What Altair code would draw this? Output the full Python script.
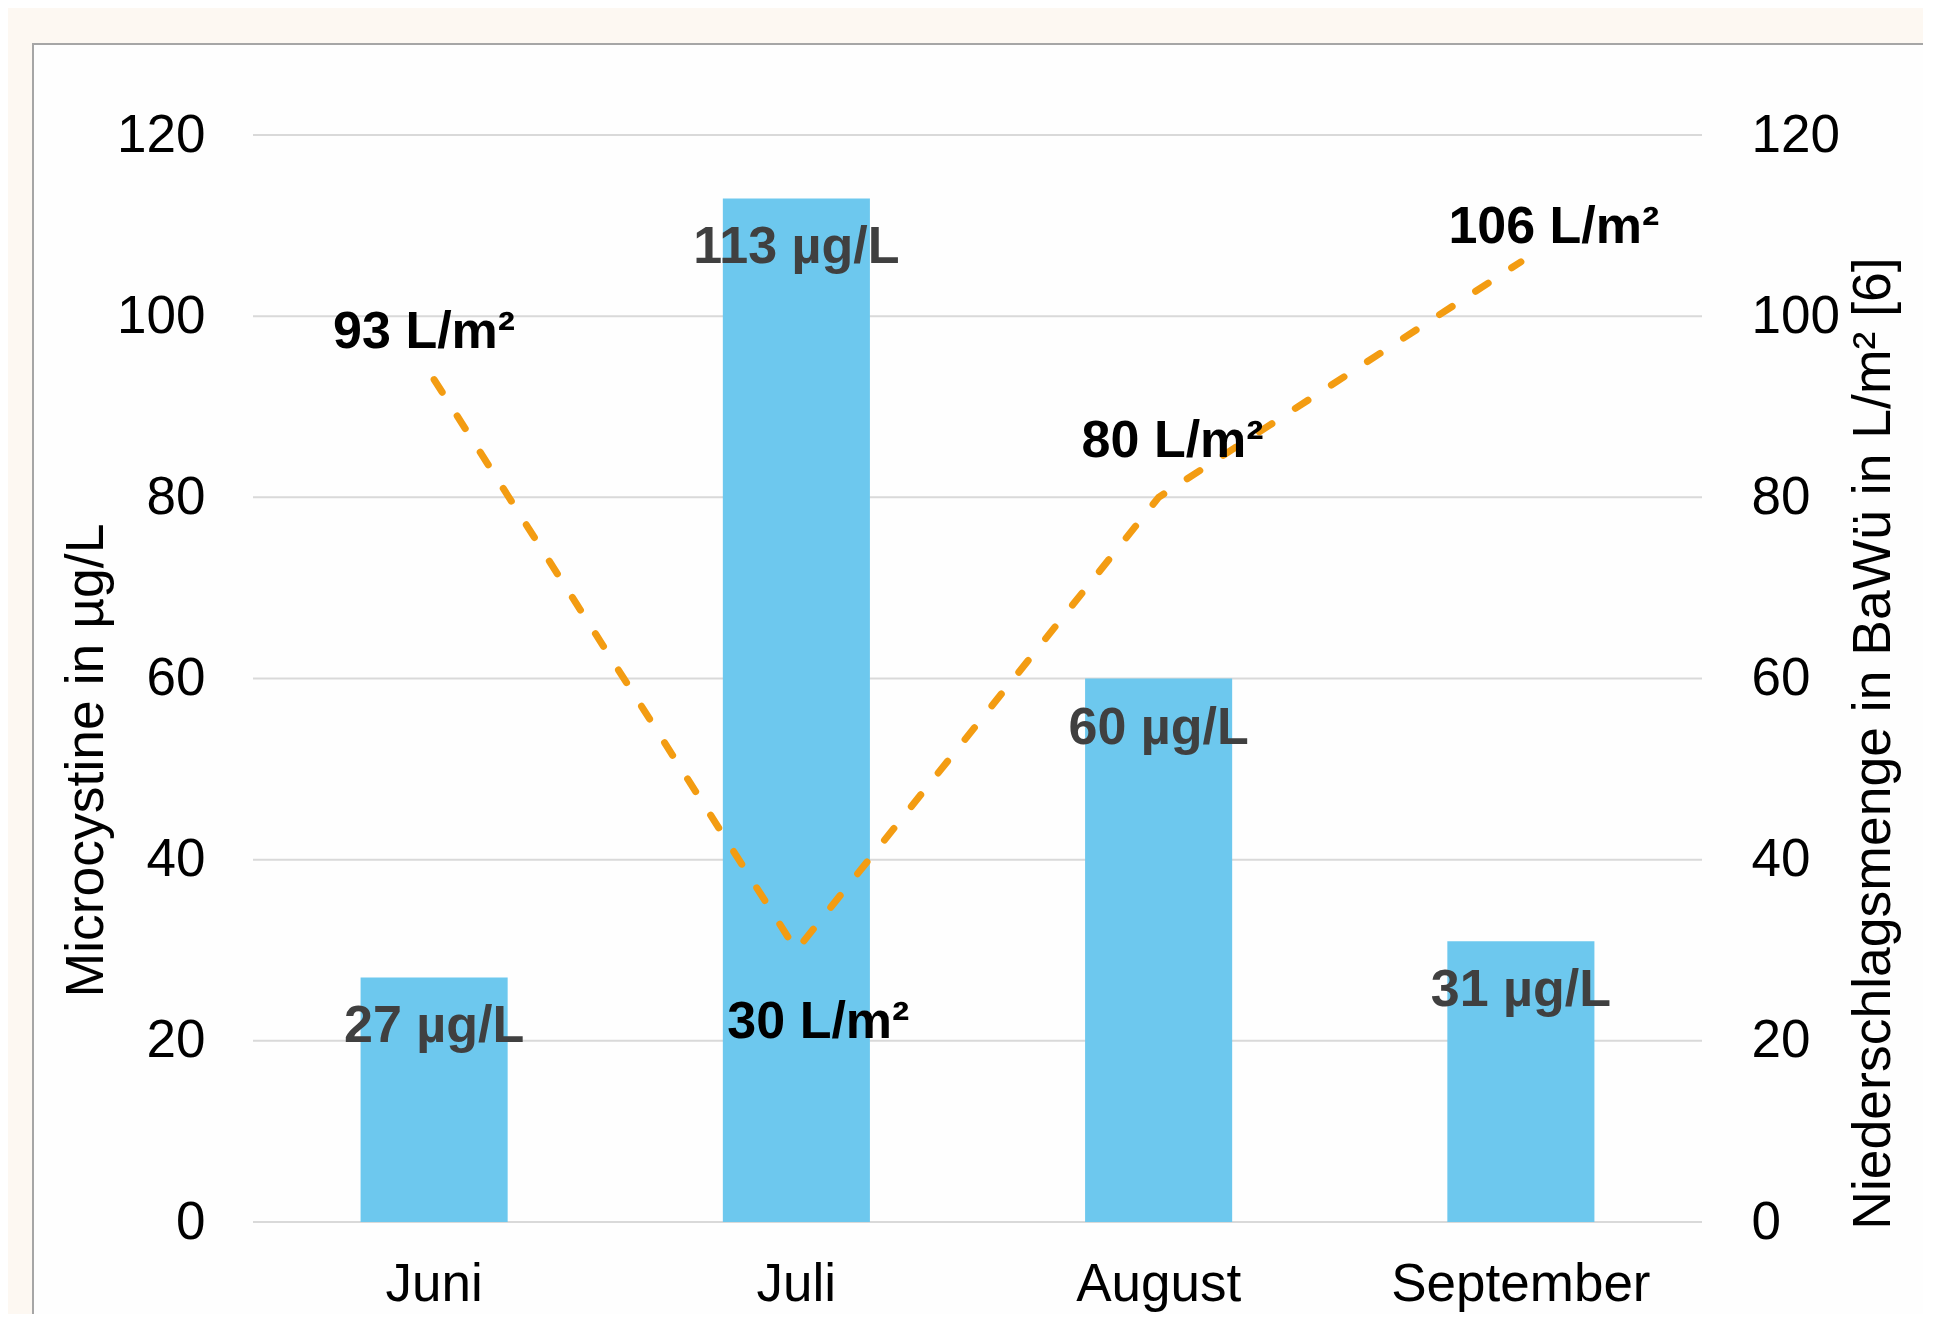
import altair as alt
import pandas as pd

# ---- data ----
months = ["Juni", "Juli", "August", "September"]
microcystine = [27, 113, 60, 31]          # µg/L (bars, left axis)
niederschlag = [93, 30, 80, 106]          # L/m² (dashed line, right axis)
tick_values = [0, 20, 40, 60, 80, 100, 120]

df = pd.DataFrame({"Monat": months, "Microcystine": microcystine, "Niederschlag": niederschlag})
df["mc_label"] = [f"{v} µg/L" for v in microcystine]
df["ns_label"] = [f"{v} L/m²" for v in niederschlag]
grid_df = pd.DataFrame({"v": tick_values})
one = pd.DataFrame({"k": [0]})

# ---- style ----
FONT = "Liberation Sans"
W, H = 1449, 1087
BAR = "#6DC8EE"
ORANGE = "#F39C12"
yscale = alt.Scale(domain=[0, 120], nice=False, zero=True)

# label offsets for the precipitation labels (dx, dy) in pixels
ns_offsets = {"Juni": (-10, -48), "Juli": (22, 72), "August": (14, -56), "September": (33, -35)}

x_enc = alt.X(
    "Monat:N", sort=months,
    scale=alt.Scale(paddingInner=0.594, paddingOuter=0.297),
    axis=alt.Axis(title=None, labelAngle=0, labelFontSize=53, labelFont=FONT,
                  labelColor="black", labelPadding=36, labelLimit=1000, ticks=False,
                  tickSize=0, domain=False, grid=False, zindex=1),
)

box = alt.Chart(one).mark_rect(fill="#FEFEFE", stroke="#A6A6A6", strokeWidth=2).encode(
    x=alt.value(-220), x2=alt.value(W + 500), y=alt.value(-91), y2=alt.value(H + 500)
)

grid = alt.Chart(grid_df).mark_rule(color="#D9D9D9", strokeWidth=2).encode(
    y=alt.Y("v:Q", scale=yscale, axis=None)
)

bars = alt.Chart(df).mark_bar(color=BAR).encode(
    x=x_enc,
    y=alt.Y("Microcystine:Q", scale=yscale,
            axis=alt.Axis(orient="left", values=tick_values, title="Microcystine in µg/L",
                          grid=False, domain=False, ticks=False, tickSize=0, zindex=1,
                          labelPadding=48, labelFontSize=53, labelFont=FONT, labelColor="black",
                          titleFont=FONT, titleFontSize=53.5, titleFontWeight="normal",
                          titleColor="black", titleAngle=270, titleAlign="center",
                          titleBaseline="middle", titleX=-167, titleY=625, titleLimit=2000)),
)

bar_labels = alt.Chart(df).mark_text(
    dy=49, baseline="middle", align="center", font=FONT, fontSize=52,
    fontWeight="bold", color="#404040"
).encode(
    x=x_enc,
    y=alt.Y("Microcystine:Q", scale=yscale, axis=None),
    text="mc_label:N",
)

line = alt.Chart(df).mark_line(
    color=ORANGE, strokeWidth=7, strokeDash=[15, 28], strokeCap="round"
).encode(
    x=x_enc,
    y=alt.Y("Niederschlag:Q", scale=yscale,
            axis=alt.Axis(orient="right", values=tick_values,
                          title="Niederschlagsmenge in BaWü in L/m² [6]",
                          grid=False, domain=False, ticks=False, tickSize=0, zindex=1,
                          labelPadding=49, labelFontSize=53, labelFont=FONT, labelColor="black",
                          titleFont=FONT, titleFontSize=53.5, titleFontWeight="normal",
                          titleColor="black", titleAngle=270, titleAlign="center",
                          titleBaseline="middle", titleX=171, titleY=608, titleLimit=2000)),
)

ns_layers = []
for m in months:
    dx, dy = ns_offsets[m]
    ns_layers.append(
        alt.Chart(df).transform_filter(alt.datum.Monat == m).mark_text(
            dx=dx, dy=dy, baseline="middle", align="center", font=FONT,
            fontSize=52, fontWeight="bold", color="black"
        ).encode(
            x=x_enc,
            y=alt.Y("Niederschlag:Q", scale=yscale, axis=None),
            text="ns_label:N",
        )
    )

chart = alt.layer(box, grid, bars, bar_labels, line, *ns_layers).resolve_scale(
    y="independent"
).properties(
    width=W, height=H,
    padding={"left": 245, "top": 127, "right": 221, "bottom": 92},
    autosize=alt.AutoSizeParams(type="none"),
    background="#FDF8F2",
).configure_view(stroke=None)

chart.save("out.html", embed_options={"renderer": "svg", "actions": False})
